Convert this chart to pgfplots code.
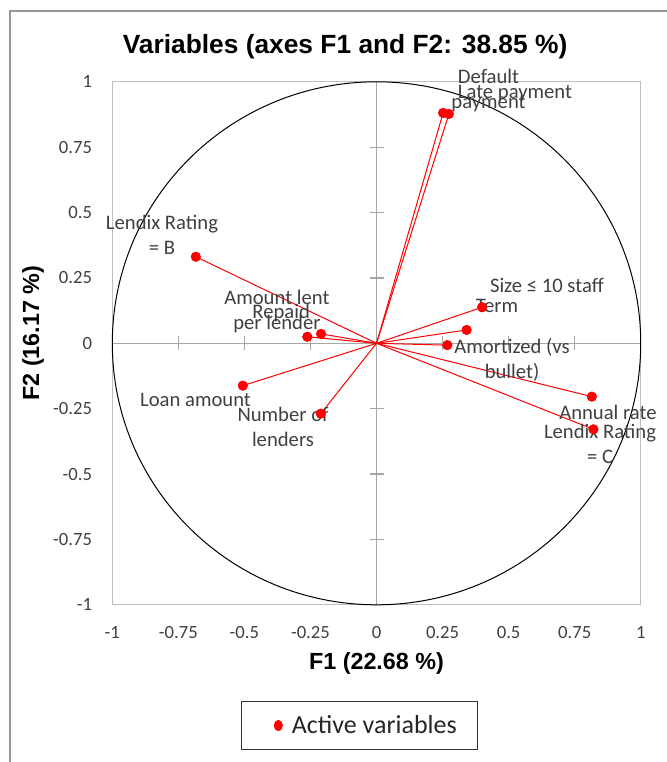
\documentclass[border=0pt]{standalone}
\usepackage{pgfplots}
\usepackage{pgfplotstable}
\pgfplotsset{compat=1.18}
\usepackage{fontspec}
\setmainfont{Carlito}
\newfontfamily\arialfont{Liberation Sans}
\definecolor{boxgray}{HTML}{BFBFBF}
\definecolor{axgray}{HTML}{A6A6A6}
\definecolor{lblgray}{HTML}{404040}
\definecolor{framegray}{HTML}{969696}
\pgfplotstableread{
x y
0.252 0.881
0.274 0.877
-0.684 0.331
-0.262 0.025
-0.210 0.036
-0.506 -0.162
-0.211 -0.269
0.400 0.138
0.341 0.051
0.268 -0.007
0.815 -0.204
0.821 -0.329
}\vars
\begin{document}
\begin{tikzpicture}
\begin{axis}[
  x=198.15pt, y=196.125pt,
  xmin=-1, xmax=1, ymin=-1, ymax=1,
  clip=false,
  axis line style={draw=boxgray, line width=0.9pt},
  xtick={-1,-0.75,-0.5,-0.25,0,0.25,0.5,0.75,1},
  ytick={-1,-0.75,-0.5,-0.25,0,0.25,0.5,0.75,1},
  xticklabels={-1,-0.75,-0.5,-0.25,0,0.25,0.5,0.75,1},
  yticklabels={-1,-0.75,-0.5,-0.25,0,0.25,0.5,0.75,1},
  major tick length=0pt,
  tick label style={font=\fontsize{14}{16}\selectfont, text=lblgray, inner sep=0pt},
  xticklabel style={anchor=center, yshift=-21pt},
  yticklabel style={anchor=east, xshift=-15pt},
  legend style={at={(axis cs:-0.0643,-1.4616)}, anchor=center, draw=black!80, line width=0.75pt,
    font=\fontsize{19.5}{22}\selectfont, text=black!85,
    inner xsep=9pt, inner ysep=12pt,
    nodes={inner xsep=6.75pt, inner ysep=0pt, text height=12.6pt, text depth=0pt}},
  legend image code/.code={\path[draw=none] (-15.75pt,0pt) -- (0pt,0pt); \fill[red] (3pt,0pt) ellipse [x radius=3pt, y radius=3.8pt];},
]
% central axes with crossing ticks
\draw[axgray, line width=1pt] (axis cs:-1,0) -- (axis cs:1,0);
\draw[axgray, line width=1pt] (axis cs:0,-1) -- (axis cs:0,1);
\pgfplotsinvokeforeach{-0.75,-0.5,-0.25,0.25,0.5,0.75}{
  \draw[axgray, line width=1pt] (axis cs:0,#1) ++(-5pt,0pt) -- ++(10.5pt,0pt);
  \draw[axgray, line width=1pt] (axis cs:#1,0) ++(0pt,-5pt) -- ++(0pt,10.5pt);
}
% correlation circle
\draw[black, line width=0.75pt] (axis cs:0,0) ellipse [x radius=1, y radius=1];
% vectors
\addplot[red, line width=0.75pt, quiver={u=\thisrow{x}, v=\thisrow{y}}, forget plot] table[x expr=0, y expr=0] {\vars};
\addplot[only marks, mark=*, mark size=3.6pt, red] table[x=x, y=y] {\vars};
\addlegendentry{Active variables}
% labels
\begin{scope}[every node/.style={align=center, text=lblgray, font=\fontsize{15.5}{18.75}\selectfont, inner sep=0pt}]
\node at (axis cs:0.424,0.968) {Default\\payment};
\node at (axis cs:0.524,0.957) {Late payment};
\node at (axis cs:-0.812,0.414) {Lendix Rating\\= B};
\node at (axis cs:-0.377,0.120) {Amount lent\\per lender};
\node at (axis cs:-0.361,0.116) {Repaid};
\node at (axis cs:-0.685,-0.217) {Loan amount};
\node at (axis cs:-0.354,-0.320) {Number of\\lenders};
\node at (axis cs:0.645,0.223) {Size ≤ 10 staff};
\node at (axis cs:0.456,0.143) {Term};
\node at (axis cs:0.513,-0.062) {Amortized (vs\\bullet)};
\node at (axis cs:0.876,-0.263) {Annual rate};
\node at (axis cs:0.846,-0.385) {Lendix Rating\\= C};
\end{scope}
% title and axis titles
\node[font=\arialfont\bfseries\fontsize{19.75}{22}\selectfont, inner sep=0pt] at (axis cs:-0.119,1.133) {Variables (axes F1 and F2: 38.85 \%)};
\node[font=\arialfont\bfseries\fontsize{17.5}{20}\selectfont, inner sep=0pt] at (axis cs:0,-1.226) {F1 (22.68 \%)};
\node[font=\arialfont\bfseries\fontsize{17.5}{20}\selectfont, inner sep=0pt, rotate=90] at (axis cs:-1.300,0.039) {F2 (16.17 \%)};
% outer frame
\draw[framegray, line width=1.5pt] (axis cs:-1.387,-1.61) -- (axis cs:-1.387,1.271) -- (axis cs:1.1,1.271);
\coordinate (BL) at (axis cs:-1.4251,-1.6011);
\coordinate (TR) at (axis cs:1.0958,1.3128);
\end{axis}
\pgfresetboundingbox
\path (BL) rectangle (TR);
\end{tikzpicture}
\end{document}
